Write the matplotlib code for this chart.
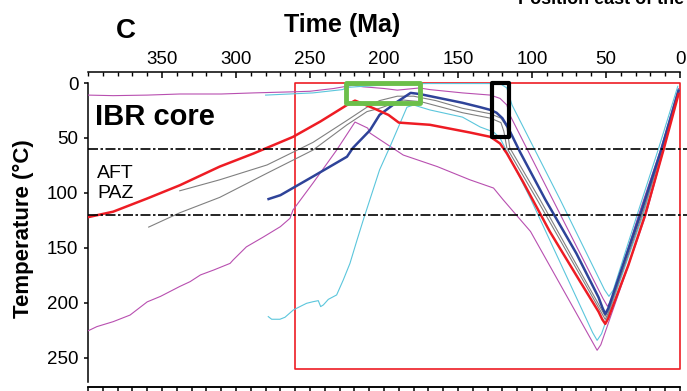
"""
Time-temperature paths for the IBR core (panel C).
Saves out.png (687x391).
"""

import matplotlib
matplotlib.use("Agg")
import matplotlib.pyplot as plt
from matplotlib.patches import Rectangle
from matplotlib.ticker import MultipleLocator

plt.rcParams["font.family"] = ["Liberation Sans", "DejaVu Sans"]

W, H = 687, 391

# thermal histories: time (Ma) and temperature (degC)
RED_MA   = [400, 383, 360, 338, 311, 288, 261.5, 243, 225, 219.6, 207, 197, 190, 169, 142, 128,
            121.6, 117, 106, 88, 70, 55, 52.5, 50.5, 48.5, 35, 23.6, 11, 1]
RED_TEMP = [122, 117, 105, 93, 76, 64, 49, 35, 20, 16, 23, 29, 36, 38, 45, 49,
            55, 64, 90, 135, 175, 208, 215, 219, 214, 166, 120, 60, 10]

BLUE_MA   = [278, 270, 248, 225, 221, 209.5, 203, 191, 182, 176, 147, 135, 128, 124, 120, 116,
             108, 91, 70, 55, 52.5, 50.5, 48.5, 27, 12.5, 1]
BLUE_TEMP = [105.5, 102, 85, 67, 59, 43, 29, 17, 9, 10, 18, 22, 24.5, 27, 32, 41,
             63, 106, 155, 195, 204, 210, 205, 120, 60, 7]

GRAY1_MA   = [338, 311, 279, 248, 225, 211.5, 203, 191, 180, 165, 147, 128, 121, 117, 115,
              94.6, 53, 50.5, 48.5, 26.3, 12, 1]
GRAY1_TEMP = [98, 88, 74.5, 54, 34, 22, 16, 12, 12, 16, 23, 28, 32, 40, 59,
              106, 206, 212, 207, 120, 60, 8]

GRAY2_MA   = [359, 338, 311, 279, 248, 225, 211.5, 203, 187, 175, 147, 128, 121, 119, 117,
              96.6, 53, 50.5, 48.5, 25.6, 11.8, 1]
GRAY2_TEMP = [131, 118, 104, 82, 61, 38, 26, 23, 15.5, 17, 27, 32, 36, 44, 59,
              106, 209, 215, 209, 120, 60, 9]

MAG_UP_MA   = [400, 383, 360, 338, 310, 288, 261, 250, 234, 221, 214, 209, 200, 191, 176, 169,
               147, 128, 121.6, 117, 115, 86, 52, 49, 46, 28, 13, 1]
MAG_UP_TEMP = [11, 11.5, 11, 10, 10, 9, 8, 7.5, 5, 2, 3.5, 4, 5, 6.5, 4.5, 6,
               9, 11, 14, 20, 29, 106, 196, 203, 197, 120, 60, 5]

MAG_LO_MA   = [401, 394, 383, 371.6, 360, 351, 338, 331, 324, 315, 304, 302, 293, 281.5, 270,
               263.5, 261.5, 248, 232, 219.6, 211, 209.5, 187, 164, 142, 126, 119.6, 101,
               58.5, 56, 53.5, 23, 11, 1]
MAG_LO_TEMP = [226, 221.5, 217, 211, 199, 194, 185, 180.6, 174.5, 170, 164, 161, 149, 140, 130.6,
               123, 115.5, 91, 61, 35.5, 41, 45.5, 65.5, 76, 88, 95.5, 106, 135,
               237, 243, 238, 120, 60, 9]

CYAN_UP_MA   = [280, 248, 228, 225, 191, 170, 140, 121.6, 117, 113.5, 81, 51, 48, 45, 29, 14.6, 1.5]
CYAN_UP_TEMP = [11, 9, 6, 4, 1, 0.5, 0.5, 0.5, 4.5, 20, 106, 188, 194, 188, 120, 60, 3]

CYAN_LO_MA   = [278.2, 275.9, 270.3, 266.9, 261.3, 256.8, 252.3, 247.8, 244.4, 242.8, 241, 237.6,
                232, 227.5, 223, 218.5, 214, 203, 196, 184.5, 180, 169, 147, 135, 126, 121.6,
                100.7, 59, 56, 53, 25, 12, 1]
CYAN_LO_TEMP = [212.4, 214.8, 214.8, 213, 206.4, 203.3, 200.3, 198.8, 197.9, 203.3, 201.8, 196.7,
                192.7, 179, 164, 144, 124.5, 79, 58, 22, 20, 24.5, 31, 40, 44.5, 50,
                106, 227, 234, 228, 120, 60, 6]

# apatite fission track partial annealing zone (degC)
PAZ_TEMP = [60, 120]

# boxes: (young Ma, old Ma, top degC, bottom degC)
RED_BOX   = (0, 260, 0, 260)
GREEN_BOX = (176, 226, 0, 18)
BLACK_BOX = (115.5, 127, 0, 49)

RED   = "#ee1c24"
BLUE  = "#2e4399"
GRAY  = "#808080"
MAG   = "#b84fb0"
CYAN  = "#5bc6dc"
GREEN = "#6cbf4a"


def px(x, y):
    # pixel position (from top-left) -> figure fraction
    return x / W, 1 - y / H


def add_box(ax, box, color, lw, z):
    t0, t1, T0, T1 = box
    ax.add_patch(Rectangle((t0, T0), t1 - t0, T1 - T0, fill=False, edgecolor=color,
                           linewidth=lw, zorder=z, clip_on=False, joinstyle="round"))


def main():
    fig = plt.figure(figsize=(W / 100, H / 100), dpi=100)
    left, right = px(88, 0)[0], px(680, 0)[0]
    bottom, top = px(0, 387)[1], px(0, 83)[1]
    ax = fig.add_axes([left, bottom, right - left, top - bottom])

    thin = dict(linewidth=0.8, zorder=3)
    ax.plot(MAG_LO_MA, MAG_LO_TEMP, color=MAG, **thin)
    ax.plot(MAG_UP_MA, MAG_UP_TEMP, color=MAG, **thin)
    ax.plot(CYAN_LO_MA, CYAN_LO_TEMP, color=CYAN, **thin)
    ax.plot(CYAN_UP_MA, CYAN_UP_TEMP, color=CYAN, **thin)
    ax.plot(GRAY1_MA, GRAY1_TEMP, color=GRAY, **thin)
    ax.plot(GRAY2_MA, GRAY2_TEMP, color=GRAY, **thin)
    ax.plot(BLUE_MA, BLUE_TEMP, color=BLUE, linewidth=1.8, zorder=4)
    ax.plot(RED_MA, RED_TEMP, color=RED, linewidth=1.8, zorder=5)

    for T in PAZ_TEMP:
        ax.axhline(T, xmin=0, xmax=1.012, color="black", linewidth=1.2,
                   linestyle=(0, (6, 1.5, 1.5, 1.5)), clip_on=False, zorder=6)

    add_box(ax, RED_BOX, RED, 1.2, 2)
    add_box(ax, GREEN_BOX, GREEN, 3.5, 7)
    add_box(ax, BLACK_BOX, "black", 3.0, 7)

    ax.set_xlim(400, 0)
    ax.set_ylim(276.4, 0)

    # top time axis
    ax.spines["right"].set_visible(False)
    ax.spines["top"].set_position(("outward", 8))
    ax.spines["left"].set_bounds(0, 272)
    for s in ax.spines.values():
        s.set_linewidth(1.1)
    ax.xaxis.set_ticks_position("top")
    ax.set_xticks(range(0, 351, 50))
    ax.xaxis.set_minor_locator(MultipleLocator(10))
    ax.tick_params(axis="x", which="both", direction="in", labeltop=True,
                   labelbottom=False, labelsize=13.5, pad=3)
    ax.tick_params(axis="x", which="major", length=4, width=1.1)
    ax.tick_params(axis="x", which="minor", length=3, width=1.0)

    sec = ax.secondary_xaxis("bottom")
    sec.set_xticks(range(0, 401, 50))
    sec.xaxis.set_minor_locator(MultipleLocator(10))
    sec.tick_params(which="both", direction="out", labelbottom=False, length=4, width=1.1)
    sec.spines["bottom"].set_linewidth(1.1)

    ax.set_yticks(range(0, 251, 50))
    ax.tick_params(axis="y", direction="out", length=3, width=1.1, labelsize=13.5, pad=4)

    # labels
    fig.text(*px(126, 38), "C", fontsize=20, fontweight="bold", ha="center", va="baseline")
    fig.text(*px(342, 32), "Time (Ma)", fontsize=18, fontweight="bold",
             ha="center", va="baseline")
    fig.text(*px(518, 3.5), "Position east of the", fontsize=13, fontweight="bold",
             ha="left", va="baseline")
    fig.text(*px(23, 229), "Temperature (°C)", fontsize=16, fontweight="bold",
             rotation=90, ha="center", va="center")
    fig.text(*px(95, 125), "IBR core", fontsize=21, fontweight="bold",
             ha="left", va="baseline")
    fig.text(*px(97, 178), "AFT", fontsize=14, ha="left", va="baseline")
    fig.text(*px(97, 198), "PAZ", fontsize=14, ha="left", va="baseline")

    fig.savefig("out.png", dpi=100)
    plt.close(fig)


if __name__ == "__main__":
    main()
